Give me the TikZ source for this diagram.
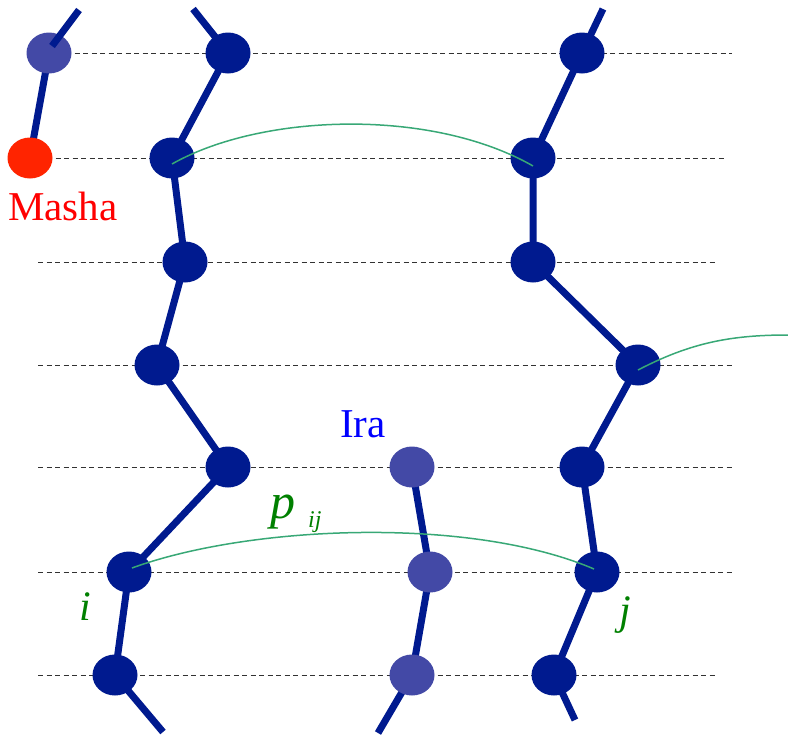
\documentclass[tikz,border=0pt]{standalone}
\usepackage{fontspec}
\setmainfont{Liberation Serif}
\usetikzlibrary{shapes.geometric}
\definecolor{navy}{RGB}{0,26,143}
\definecolor{lightnavy}{RGB}{67,73,166}
\definecolor{mred}{RGB}{255,36,0}
\definecolor{curvegreen}{RGB}{56,168,118}
\definecolor{textgreen}{RGB}{0,128,0}
\definecolor{dashgray}{RGB}{50,50,50}
\tikzset{
  dnode/.style={ellipse, fill=navy, draw=none, minimum width=45pt, minimum height=41pt, inner sep=0pt},
  lnode/.style={ellipse, fill=lightnavy, draw=none, minimum width=45pt, minimum height=41pt, inner sep=0pt},
  rnode/.style={ellipse, fill=mred, draw=none, minimum width=45pt, minimum height=41pt, inner sep=0pt},
  chain/.style={line width=7pt, draw=navy},
  grid/.style={dashgray, line width=1pt, dash pattern=on 5pt off 3.5pt},
  link/.style={curvegreen, line width=1.5pt},
  lab/.style={inner sep=0pt, anchor=base}
}
\begin{document}
\begin{tikzpicture}[x=1pt,y=-1pt]
\useasboundingbox (0,0) rectangle (788,736);
% dashed levels
\coordinate (g1a) at (49,53);  \coordinate (g1b) at (732,53);
\coordinate (g2a) at (30,158); \coordinate (g2b) at (725,158);
\coordinate (g3a) at (38,262); \coordinate (g3b) at (715,262);
\coordinate (g4a) at (38,365); \coordinate (g4b) at (732,365);
\coordinate (g5a) at (38,467); \coordinate (g5b) at (732,467);
\coordinate (g6a) at (38,572); \coordinate (g6b) at (732,572);
\coordinate (g7a) at (38,675); \coordinate (g7b) at (715,675);
\foreach \k in {1,...,7} { \draw[grid] (g\k a) -- (g\k b); }
% stub ends
\coordinate (s0) at (79,10);
\coordinate (s1t) at (193,9);
\coordinate (s1b) at (163,732);
\coordinate (s2b) at (378,733);
\coordinate (s3t) at (603,9);
\coordinate (s3b) at (575,720);
% node positions
\coordinate (pm) at (30,158);
\coordinate (p0) at (49,53);
\coordinate (pa1) at (228,53);
\coordinate (pa2) at (172,158);
\coordinate (pa3) at (185,262);
\coordinate (pa4) at (157,365);
\coordinate (pa5) at (228,467);
\coordinate (pa6) at (129,572);
\coordinate (pa7) at (115,675);
\coordinate (pb5) at (412,467);
\coordinate (pb6) at (430,572);
\coordinate (pb7) at (412,675);
\coordinate (pc1) at (582,53);
\coordinate (pc2) at (533,158);
\coordinate (pc3) at (533,262);
\coordinate (pc4) at (638,365);
\coordinate (pc5) at (582,467);
\coordinate (pc6) at (597,572);
\coordinate (pc7) at (554,675);
% chains (behind nodes)
\draw[chain] (pm) -- (p0);
\draw[chain] (s1t) -- (pa1) -- (pa2) -- (pa3) -- (pa4) -- (pa5) -- (pa6) -- (pa7) -- (s1b);
\draw[chain] (pb5) -- (pb6) -- (pb7) -- (s2b);
\draw[chain] (s3t) -- (pc1) -- (pc2) -- (pc3) -- (pc4) -- (pc5) -- (pc6) -- (pc7) -- (s3b);
% nodes
\node[rnode] (m) at (pm) {};
\node[lnode] (n0) at (p0) {};
\node[dnode] (a1) at (pa1) {};
\node[dnode] (a2) at (pa2) {};
\node[dnode] (a3) at (pa3) {};
\node[dnode] (a4) at (pa4) {};
\node[dnode] (a5) at (pa5) {};
\node[dnode] (a6) at (pa6) {};
\node[dnode] (a7) at (pa7) {};
\node[lnode] (b5) at (pb5) {};
\node[lnode] (b6) at (pb6) {};
\node[lnode] (b7) at (pb7) {};
\node[dnode] (c1) at (pc1) {};
\node[dnode] (c2) at (pc2) {};
\node[dnode] (c3) at (pc3) {};
\node[dnode] (c4) at (pc4) {};
\node[dnode] (c5) at (pc5) {};
\node[dnode] (c6) at (pc6) {};
\node[dnode] (c7) at (pc7) {};
% stub drawn over the light node
\draw[chain] ([shift={(3,-7)}]n0.center) -- (s0);
% green links
\coordinate (e4) at (788,335);
\draw[link] ([yshift=-6]a2.center) .. controls (262,113) and (432,108) .. ([yshift=-8]c2.center);
\draw[link] ([yshift=-5]c4.center) .. controls (690,343) and (730,335) .. (e4);
\draw[link] ([shift={(3,-4)}]a6.center) .. controls (250,525) and (470,516) .. ([shift={(-3,-3)}]c6.center);
% labels
\node[lab, text=red, font=\fontsize{41}{47}\selectfont] (tm) at (63,220) {Masha};
\node[lab, text=blue, font=\fontsize{41}{47}\selectfont] (ti) at (363,437) {Ira};
\node[lab, anchor=base west, text=textgreen, font=\fontsize{50}{54}\selectfont\itshape] (tp) at (270,518) {p};
\node[lab, anchor=base west, text=textgreen, font=\fontsize{24}{28}\selectfont\itshape] (tij) at (308,527) {ij};
\node[lab, text=textgreen, font=\fontsize{42}{48}\selectfont\itshape] (tii) at (85,620) {i};
\node[lab, text=textgreen, font=\fontsize{42}{48}\selectfont\itshape] (tj) at (625,624) {j};
\end{tikzpicture}
\end{document}
